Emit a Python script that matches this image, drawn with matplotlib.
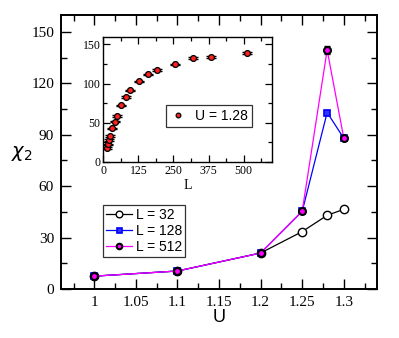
import matplotlib
matplotlib.use('Agg')

import matplotlib.pyplot as plt
from matplotlib.ticker import MultipleLocator

# ── Data ─────────────────────────────────────────────────────────────────────
U = [1.0, 1.1, 1.2, 1.25, 1.28, 1.3]
chi_L32 = [7.5, 10.5, 21.0, 33.5, 43.0, 46.5]
chi_L128 = [7.5, 10.5, 21.0, 45.3, 103.0, 88.0]
chi_L512 = [7.5, 10.5, 21.0, 45.5, 139.5, 88.0]
err_L128 = [0.3, 0.3, 0.4, 0.8, 1.2, 0.8]
err_L512 = [0.3, 0.3, 0.5, 1.0, 2.2, 0.8]

# inset: chi_2 vs L at U = 1.28
L_in = [12, 16, 20, 24, 32, 40, 48, 64, 80, 96, 128, 160, 192, 256, 320, 384, 512]
chi_in = [17.6, 22.3, 27.8, 33.4, 42.7, 51.3, 58.9, 72.0, 82.7, 91.2, 102.7,
          111.6, 117.6, 124.4, 132.4, 133.7, 139.3]
err_in = [1.0, 1.0, 1.0, 1.0, 1.0, 1.0, 1.0, 1.0, 1.0, 1.0, 1.0, 1.0, 1.0,
          1.0, 1.2, 1.2, 1.2]

SERIF = "Liberation Serif"
SANS = "Liberation Sans"

fig = plt.figure(figsize=(3.99, 3.38), dpi=100)

# ── Main panel ───────────────────────────────────────────────────────────────
ax = fig.add_axes([0.153, 0.145, 0.792, 0.811])
ax.plot(U, chi_L32, color="black", lw=0.9, marker="o", ms=6,
        mfc="white", mec="black", mew=1.0, label="L = 32", zorder=3)
ax.errorbar(U, chi_L128, yerr=err_L128, fmt="none", ecolor="black",
            elinewidth=0.9, capsize=2.5, zorder=4)
ax.plot(U, chi_L128, color="blue", lw=0.9, marker="s", ms=4.5,
        mfc="#3030ff", mec="blue", mew=1.2, label="L = 128", zorder=4)
ax.errorbar(U, chi_L512, yerr=err_L512, fmt="none", ecolor="black",
            elinewidth=0.9, capsize=2.5, zorder=5)
ax.plot(U, chi_L512, color="#ff00ff", lw=0.9, marker="o", ms=5,
        mfc="#ff00ff", mec="black", mew=1.5, label="L = 512", zorder=5)

ax.set_xlim(0.96, 1.34)
ax.set_ylim(0, 160)
ax.xaxis.set_major_locator(MultipleLocator(0.05))
ax.xaxis.set_minor_locator(MultipleLocator(0.025))
ax.yaxis.set_major_locator(MultipleLocator(30))
ax.yaxis.set_minor_locator(MultipleLocator(15))
ax.set_xticks([1, 1.05, 1.1, 1.15, 1.2, 1.25, 1.3])
ax.set_xticklabels(["1", "1.05", "1.1", "1.15", "1.2", "1.25", "1.3"])
ax.tick_params(which="both", direction="in", top=True, right=True,
               labelsize=11, width=1.0, pad=5)
ax.tick_params(which="major", length=7)
ax.tick_params(which="minor", length=4)
for lab in ax.get_xticklabels() + ax.get_yticklabels():
    lab.set_fontfamily(SERIF)
for sp in ax.spines.values():
    sp.set_linewidth(1.4)

ax.set_xlabel("U", fontsize=13, family=SANS, labelpad=0)
ax.set_ylabel(r"$\chi_2$", fontsize=14, rotation=0)
ax.yaxis.set_label_coords(-0.125, 0.46)

leg = ax.legend(loc="upper left", bbox_to_anchor=(0.133, 0.305),
                prop={"family": SANS, "size": 10}, frameon=True,
                fancybox=False, edgecolor="black", handlelength=1.9,
                handletextpad=0.3, borderpad=0.2, labelspacing=0.15,
                borderaxespad=0, markerscale=0.8)
leg.get_frame().set_linewidth(0.9)

# ── Inset ────────────────────────────────────────────────────────────────────
ins = fig.add_axes([0.259, 0.521, 0.422, 0.371])
ins.errorbar(L_in, chi_in, yerr=err_in, fmt="none", ecolor="black",
             elinewidth=0.8, capsize=3.5)
ins.plot(L_in, chi_in, ls="none", marker="o", ms=4.2, mfc="#ff2020",
         mec="black", mew=0.9, label="U = 1.28")
ins.set_xlim(0, 600)
ins.set_ylim(0, 160)
ins.xaxis.set_major_locator(MultipleLocator(125))
ins.xaxis.set_minor_locator(MultipleLocator(62.5))
ins.yaxis.set_major_locator(MultipleLocator(50))
ins.yaxis.set_minor_locator(MultipleLocator(25))
ins.tick_params(which="both", direction="in", top=True, right=True,
                labelsize=8.5, width=0.9, pad=2)
ins.tick_params(which="major", length=5)
ins.tick_params(which="minor", length=3)
for lab in ins.get_xticklabels() + ins.get_yticklabels():
    lab.set_fontfamily(SERIF)
for sp in ins.spines.values():
    sp.set_linewidth(1.0)
ins.set_xlabel("L", fontsize=10, family=SERIF, labelpad=2)

leg2 = ins.legend(loc="upper left", bbox_to_anchor=(0.37, 0.453),
                  prop={"family": SANS, "size": 10}, frameon=True,
                  fancybox=False, edgecolor="black", handlelength=1.2,
                  handletextpad=0.6, borderpad=0.3, borderaxespad=0,
                  markerscale=0.8)
leg2.get_frame().set_linewidth(0.9)

fig.savefig("out.png", dpi=100)
